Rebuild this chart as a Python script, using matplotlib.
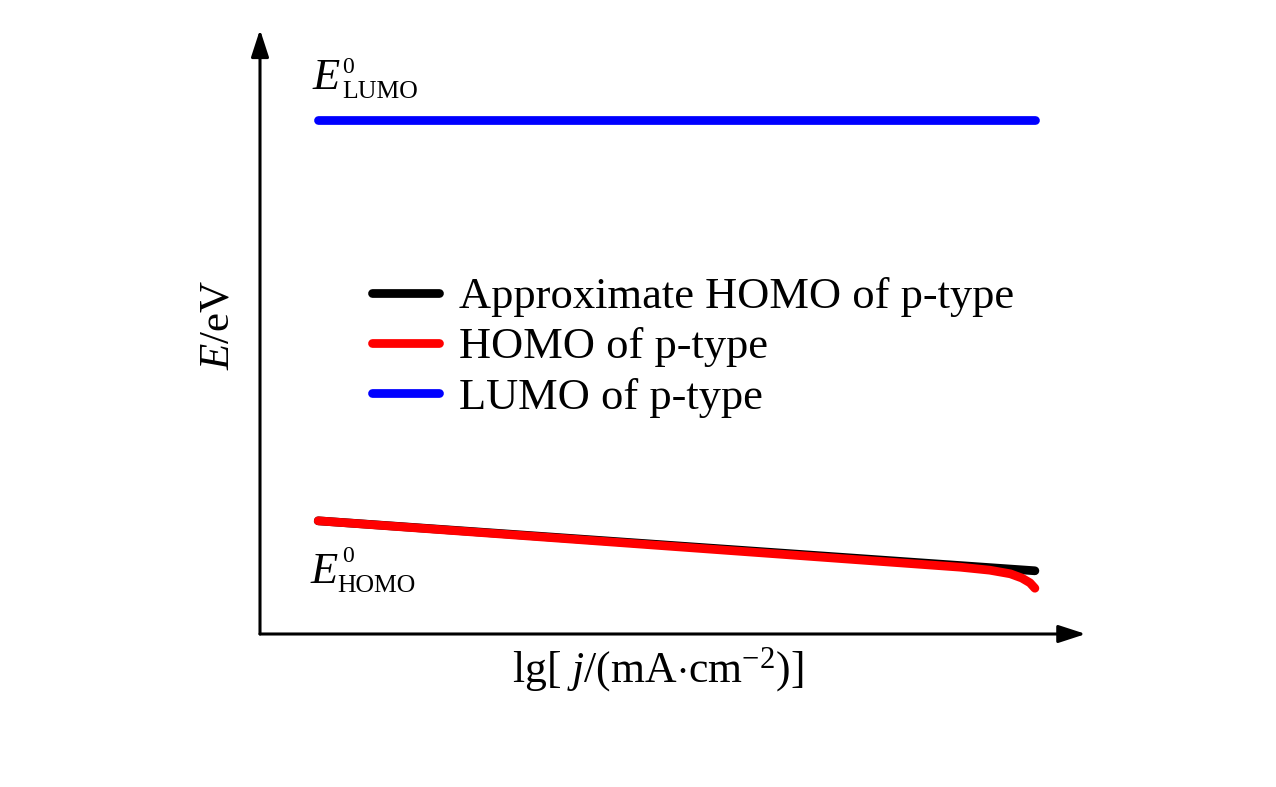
import matplotlib
matplotlib.use("Agg")
import matplotlib.pyplot as plt
from matplotlib.lines import Line2D

plt.rcParams["font.family"] = ["Liberation Serif", "DejaVu Serif"]
plt.rcParams["mathtext.fontset"] = "custom"
plt.rcParams["mathtext.rm"] = "Liberation Serif"
plt.rcParams["mathtext.it"] = "Liberation Serif:italic"

# ------------------------------------------------------------------
# Data (arbitrary units, axes run 0..10 on both directions)
# ------------------------------------------------------------------
lumo_x = [0.71, 9.45]
lumo_y = [8.54, 8.54]

approx_homo_x = [0.71, 9.45]
approx_homo_y = [1.88, 1.05]

homo_x = [0.71, 8.54, 8.90, 9.15, 9.29, 9.39, 9.45]
homo_y = [1.88, 1.11, 1.06, 1.00, 0.93, 0.85, 0.76]

labels = ["Approximate HOMO of p-type", "HOMO of p-type", "LUMO of p-type"]
colors = ["#000000", "#ff0000", "#0000ff"]

W, H = 1276, 787
fig = plt.figure(figsize=(W / 100, H / 100), dpi=100)
ax = fig.add_axes([260 / W, 153 / H, 820 / W, 602 / H])
ax.set_xlim(0, 10)
ax.set_ylim(0, 10)
ax.set_xticks([])
ax.set_yticks([])
for s in ax.spines.values():
    s.set_visible(False)

lw = 6.3
ax.plot(approx_homo_x, approx_homo_y, color=colors[0], lw=lw, solid_capstyle="round")
ax.plot(homo_x, homo_y, color=colors[1], lw=lw, solid_capstyle="round", solid_joinstyle="round")
ax.plot(lumo_x, lumo_y, color=colors[2], lw=lw, solid_capstyle="round")

# axis arrows
arrow = dict(arrowstyle="-|>,head_length=0.83,head_width=0.27", lw=2.2, color="k",
             mutation_scale=20, shrinkA=0, shrinkB=0)
ax.annotate("", xy=(1.007, 0), xytext=(0, 0), xycoords="axes fraction", arrowprops=arrow)
ax.annotate("", xy=(0, 1.004), xytext=(0, 0), xycoords="axes fraction", arrowprops=arrow)

# level labels
ax.text(0.646, 9.05, "E", fontsize=32, style="italic", va="baseline", ha="left")
ax.text(1.00, 9.32, "0", fontsize=17, va="baseline", ha="left")
ax.text(1.00, 8.90, "LUMO", fontsize=18.5, va="baseline", ha="left")

ax.text(0.61, 0.85, "E", fontsize=32, style="italic", va="baseline", ha="left")
ax.text(1.00, 1.20, "0", fontsize=17, va="baseline", ha="left")
ax.text(0.94, 0.70, "HOMO", fontsize=18.5, va="baseline", ha="left")

# axis titles
ax.text((218 - 260) / 820, (634 - 325) / 602, r"$E$/eV", fontsize=31, rotation=90,
        ha="center", va="center", transform=ax.transAxes)
ax.text((658 - 260) / 820, (634 - 670) / 602, r"lg[ $j$/(mA$\cdot$cm$^{-2}$)]", fontsize=31.5,
        ha="center", va="center", transform=ax.transAxes)

handles = [Line2D([], [], color=c, lw=lw, solid_capstyle="round") for c in colors]
ax.legend(handles, labels, loc="upper left", bbox_to_anchor=(372 / W, (H - 277) / H),
          bbox_transform=fig.transFigure, frameon=False, fontsize=32,
          handlelength=1.5, handletextpad=0.45, labelspacing=0.23, borderpad=0,
          borderaxespad=0)

fig.savefig("out.png", dpi=100)
